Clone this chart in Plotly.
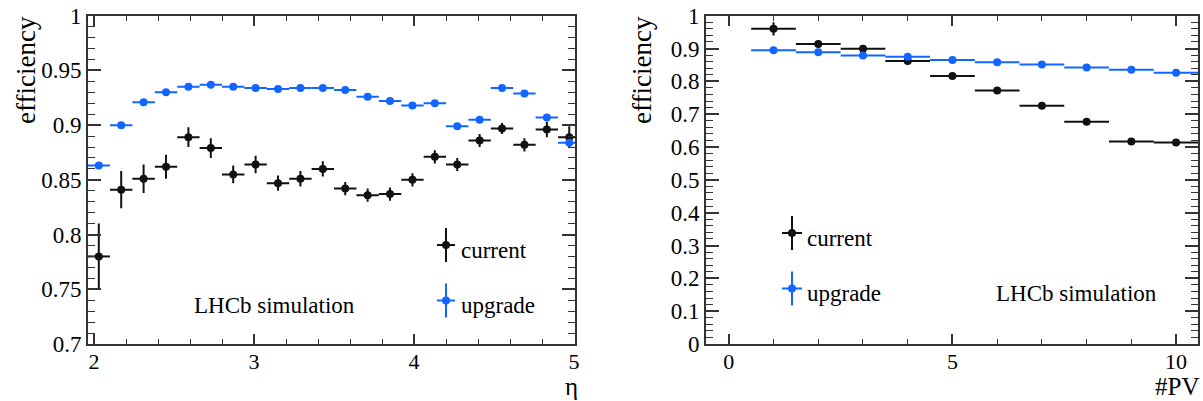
import plotly.graph_objects as go

# ---------------- data ----------------
# left panel: efficiency vs eta
eta_centers = [2.03, 2.17, 2.31, 2.45, 2.59, 2.73, 2.87, 3.01, 3.15, 3.29, 3.43,
               3.57, 3.71, 3.85, 3.99, 4.13, 4.27, 4.41, 4.55, 4.69, 4.83, 4.97]
eta_halfwidth = 0.07
eta_current = [0.780, 0.841, 0.851, 0.862, 0.889, 0.879, 0.855, 0.864, 0.847, 0.851, 0.860,
               0.842, 0.836, 0.837, 0.850, 0.871, 0.864, 0.886, 0.897, 0.882, 0.896, 0.889]
eta_current_err = [0.030, 0.017, 0.013, 0.011, 0.009, 0.009, 0.008, 0.008, 0.007, 0.007, 0.007,
                   0.006, 0.006, 0.006, 0.006, 0.006, 0.006, 0.006, 0.005, 0.006, 0.007, 0.010]
eta_upgrade = [0.863, 0.900, 0.921, 0.930, 0.935, 0.937, 0.935, 0.934, 0.933, 0.934, 0.934,
               0.932, 0.926, 0.922, 0.918, 0.920, 0.899, 0.905, 0.934, 0.929, 0.907, 0.884]
eta_upgrade_err = [0.002] * 22

# right panel: efficiency vs number of primary vertices
pv_centers = [1, 2, 3, 4, 5, 6, 7, 8, 9, 10]
pv_halfwidth = 0.5
pv_current = [0.960, 0.914, 0.899, 0.862, 0.816, 0.772, 0.726, 0.677, 0.617, 0.614]
pv_current_err = [0.020, 0.006, 0.005, 0.004, 0.004, 0.004, 0.004, 0.004, 0.004, 0.004]
pv_upgrade = [0.895, 0.889, 0.879, 0.875, 0.865, 0.858, 0.851, 0.842, 0.835, 0.826]
pv_upgrade_err = [0.002] * 10

left_yticks = [0.7, 0.75, 0.8, 0.85, 0.9, 0.95, 1.0]
left_yticklabels = ["0.7", "0.75", "0.8", "0.85", "0.9", "0.95", "1"]
left_xticks = [2, 3, 4, 5]
right_yticks = [0, 0.1, 0.2, 0.3, 0.4, 0.5, 0.6, 0.7, 0.8, 0.9, 1.0]
right_yticklabels = ["0", "0.1", "0.2", "0.3", "0.4", "0.5", "0.6", "0.7", "0.8", "0.9", "1"]
right_xticks = [0, 5, 10]

# ---------------- style ----------------
W, H = 1203, 401
FONT = "Liberation Serif, Times New Roman, Tinos, DejaVu Serif, serif"
BLACK = "#111111"
BLUE = "#1266ff"
AX = "#333333"

def px_x(p):
    return p / W

def px_y(p):
    return 1 - p / H

fig = go.Figure()

def add_series(x, y, err, hw, color, xa, ya):
    fig.add_trace(go.Scatter(
        x=x, y=y, mode="markers", xaxis=xa, yaxis=ya, showlegend=False,
        marker=dict(color=color, size=8, symbol="circle"),
        error_x=dict(type="constant", value=hw, color=color, thickness=2, width=0),
        error_y=dict(type="data", array=err, color=color, thickness=2, width=0),
    ))

add_series(eta_centers, eta_current, eta_current_err, eta_halfwidth, BLACK, "x", "y")
add_series(eta_centers, eta_upgrade, eta_upgrade_err, eta_halfwidth, BLUE, "x", "y")
add_series(pv_centers, pv_current, pv_current_err, pv_halfwidth, BLACK, "x2", "y2")
add_series(pv_centers, pv_upgrade, pv_upgrade_err, pv_halfwidth, BLUE, "x2", "y2")

ydom = [px_y(344), px_y(15.7)]
ytickfont = dict(family=FONT, size=23, color="black")
xtickfont = dict(family=FONT, size=22, color="black")

def xaxis(domain, rng, tickvals, minor_dtick, anchor):
    return dict(domain=domain, range=rng, anchor=anchor, showgrid=False, zeroline=False,
                automargin=False, ticklabelstandoff=-3,
                showline=True, linecolor=AX, linewidth=2, mirror="ticks",
                ticks="inside", ticklen=10, tickwidth=1.5, tickcolor=AX,
                tickvals=tickvals, tickfont=xtickfont,
                minor=dict(ticks="inside", ticklen=5, tickwidth=1.2, tickcolor=AX,
                           dtick=minor_dtick, tick0=0, showgrid=False))

def yaxis(rng, tickvals, ticktext, minor_dtick, anchor):
    return dict(domain=ydom, range=rng, anchor=anchor, showgrid=False, zeroline=False,
                automargin=False,
                showline=True, linecolor=AX, linewidth=2, mirror="ticks",
                ticks="inside", ticklen=13, tickwidth=1.5, tickcolor=AX,
                tickvals=tickvals, ticktext=ticktext, tickfont=ytickfont,
                minor=dict(ticks="inside", ticklen=7, tickwidth=1.2, tickcolor=AX,
                           dtick=minor_dtick, tick0=0, showgrid=False))

fig.update_layout(
    width=W, height=H, autosize=False, margin=dict(l=0, r=0, t=0, b=0, pad=0),
    paper_bgcolor="white", plot_bgcolor="white", showlegend=False,
    font=dict(family=FONT, color="black"),
    xaxis=xaxis([px_x(88), px_x(575)], [1.9625, 5.006], left_xticks, 0.2, "y"),
    yaxis=yaxis([0.7, 1.0], left_yticks, left_yticklabels, 0.01, "x"),
    xaxis2=xaxis([px_x(706), px_x(1198)], [-0.51, 10.49], right_xticks, 1, "y2"),
    yaxis2=yaxis([0.0, 1.0], right_yticks, right_yticklabels, 0.02, "x2"),
)

ann = []
shapes = []

def text(x, y, s, size=23, xanchor="left", angle=0, yanchor="middle"):
    ann.append(dict(x=px_x(x), y=px_y(y), xref="paper", yref="paper", text=s,
                    showarrow=False, xanchor=xanchor, yanchor=yanchor, textangle=angle,
                    borderpad=0,
                    font=dict(family=FONT, size=size, color="black")))

def glyph(cx, cy, vh, hh, color):
    shapes.append(dict(type="line", xref="paper", yref="paper", x0=px_x(cx), x1=px_x(cx),
                       y0=px_y(cy - vh), y1=px_y(cy + vh), line=dict(color=color, width=2)))
    shapes.append(dict(type="line", xref="paper", yref="paper", x0=px_x(cx - hh), x1=px_x(cx + hh),
                       y0=px_y(cy), y1=px_y(cy), line=dict(color=color, width=2)))
    r = 4
    shapes.append(dict(type="circle", xref="paper", yref="paper", x0=px_x(cx - r), x1=px_x(cx + r),
                       y0=px_y(cy - r), y1=px_y(cy + r), fillcolor=color, line=dict(color=color, width=0)))

# axis titles
text(26, 15, "efficiency", size=27, xanchor="center", angle=-90, yanchor="top")
text(642, 15, "efficiency", size=27, xanchor="center", angle=-90, yanchor="top")
text(579, 386, "η", size=25, xanchor="right")
text(1200, 386, "#PV", size=25, xanchor="right")

# left legend / label
glyph(446, 245, 17, 9, BLACK)
glyph(446, 300.5, 17, 9, BLUE)
text(460, 250, "current")
text(460, 305, "upgrade")
text(193, 305, "LHCb simulation")

# right legend / label
glyph(792, 233, 17, 10, BLACK)
glyph(792, 288.5, 17, 10, BLUE)
text(806, 238, "current")
text(806, 293, "upgrade")
text(995, 293, "LHCb simulation")

fig.update_layout(annotations=ann, shapes=shapes)
fig.write_html(
    "out.html",
    config={"responsive": False, "displayModeBar": False},
    post_script="document.body.style.margin='0px';document.body.style.padding='0px';",
)
